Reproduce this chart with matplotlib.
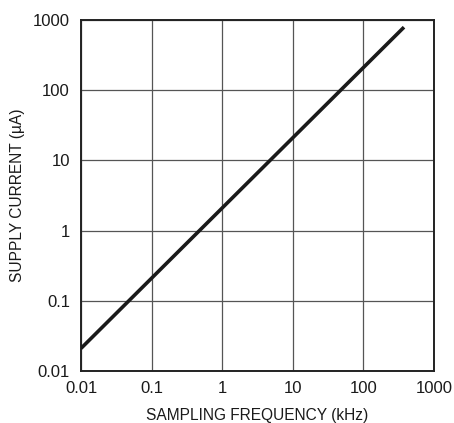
import matplotlib
matplotlib.use("Agg")
import matplotlib.pyplot as plt
import numpy as np

freq_khz = [0.01, 376]
current_ua = [0.021, 790]
x_ticks = [0.01, 0.1, 1, 10, 100, 1000]
x_tick_labels = ["0.01", "0.1", "1", "10", "100", "1000"]
y_ticks = [0.01, 0.1, 1, 10, 100, 1000]
y_tick_labels = ["0.01", "0.1", "1", "10", "100", "1000"]

plt.rcParams['font.family'] = ['Liberation Sans Narrow', 'Liberation Sans', 'DejaVu Sans']

fig = plt.figure(figsize=(4.54, 4.23), dpi=100)
ax = fig.add_axes([81/454, 1-371/423, (434-81)/454, (371-20)/423])
ax.set_xscale('log')
ax.set_yscale('log')
ax.set_xlim(0.01, 1000)
ax.set_ylim(0.01, 1000)
ax.plot(freq_khz, current_ua, color='#1a1a1a', lw=2.6, solid_capstyle='butt', zorder=3)
ax.set_xticks(x_ticks)
ax.set_xticklabels(x_tick_labels)
ax.set_yticks(y_ticks)
ax.set_yticklabels(y_tick_labels)
ax.minorticks_off()
ax.tick_params(length=0, labelsize=12, colors='#1a1a1a')
ax.tick_params(axis='x', pad=7)
ax.tick_params(axis='y', pad=8)
ax.grid(True, color='#555555', lw=0.9)
for s in ax.spines.values():
    s.set_color('#222222')
    s.set_linewidth(1.4)
ax.set_xlabel('SAMPLING FREQUENCY (kHz)', fontsize=11.2, color='#1a1a1a', labelpad=9)
ax.set_ylabel('SUPPLY CURRENT (µA)', fontsize=11.2, color='#1a1a1a', labelpad=6)
fig.savefig('out.png', dpi=100)
